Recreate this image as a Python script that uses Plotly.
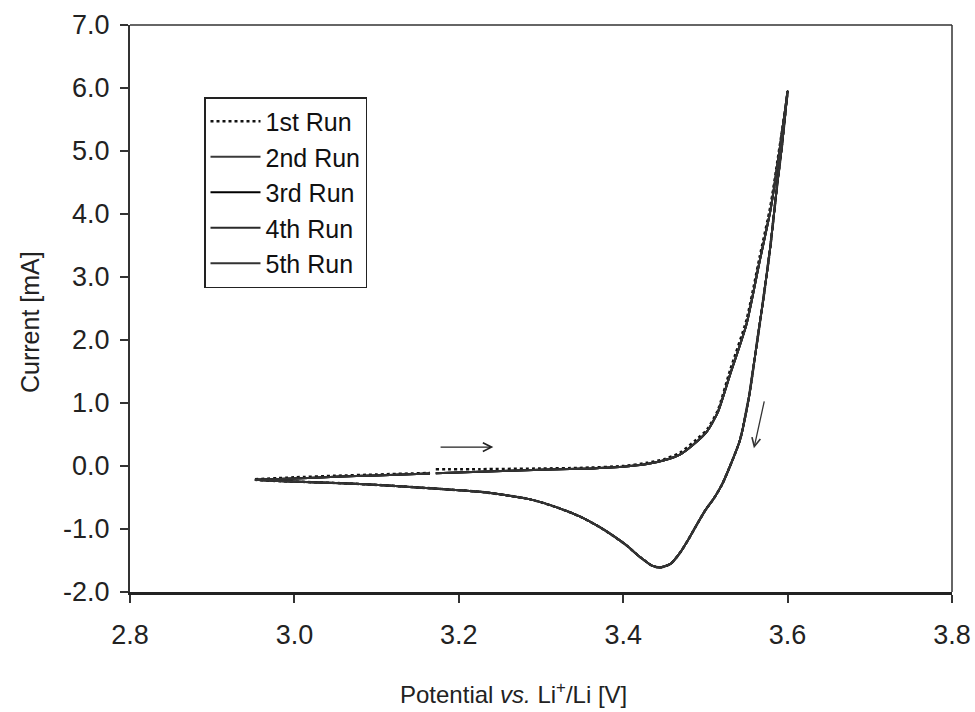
import plotly.graph_objects as go

# ---- data (potential in V vs Li+/Li, current in mA) ----
# forward (anodic) sweep; None marks the small gap seen in the recorded curve
potential_fwd = [2.952, 3.00, 3.05, 3.10, 3.165, None, 3.172, 3.226, 3.30, 3.347, 3.40,
                 3.429, 3.45, 3.469, 3.489, 3.502, 3.515, 3.530, 3.550, 3.566, 3.579,
                 3.589, 3.600]
current_fwd_run1 = [-0.21, -0.18, -0.155, -0.135, -0.11, None, -0.05, -0.05, -0.04, -0.03,
                    0.00, 0.05, 0.11, 0.21, 0.42, 0.58, 0.88, 1.52, 2.32, 3.32, 4.12,
                    4.96, 5.92]
current_fwd_runs = [-0.22, -0.20, -0.17, -0.15, -0.12, None, -0.115, -0.09, -0.06, -0.045,
                    -0.01, 0.03, 0.09, 0.18, 0.38, 0.55, 0.85, 1.45, 2.25, 3.25, 4.05,
                    4.90, 5.95]

# reverse (cathodic) sweep, shared by all runs
potential_rev = [3.600, 3.593, 3.587, 3.579, 3.571, 3.562, 3.553, 3.542, 3.530, 3.520,
                 3.510, 3.500, 3.490, 3.480, 3.469, 3.458, 3.445, 3.435, 3.420, 3.405,
                 3.388, 3.370, 3.347, 3.320, 3.287, 3.250, 3.226, 3.150, 3.086, 3.030,
                 2.980, 2.952]
current_rev = [5.95, 5.07, 4.43, 3.48, 2.70, 1.89, 1.10, 0.41, 0.00, -0.30,
               -0.52, -0.70, -0.92, -1.15, -1.38, -1.55, -1.61, -1.58, -1.44, -1.27,
               -1.11, -0.96, -0.80, -0.66, -0.53, -0.45, -0.41, -0.34, -0.29, -0.26,
               -0.24, -0.22]

run_names = ["1st Run", "2nd Run", "3rd Run", "4th Run", "5th Run"]
run_colors = ["#111111", "#3a3a3a", "#000000", "#2a2a2a", "#333333"]

x_ticks = [2.8, 3.0, 3.2, 3.4, 3.6, 3.8]
x_tick_labels = ["2.8", "3.0", "3.2", "3.4", "3.6", "3.8"]
y_ticks = [-2, -1, 0, 1, 2, 3, 4, 5, 6, 7]
y_tick_labels = ["-2.0", "-1.0", "0.0", "1.0", "2.0", "3.0", "4.0", "5.0", "6.0", "7.0"]

FONT = "Liberation Sans, Arial, sans-serif"

fig = go.Figure()
for i, name in enumerate(run_names):
    fwd = current_fwd_run1 if i == 0 else current_fwd_runs
    fig.add_trace(go.Scatter(
        x=potential_fwd + potential_rev,
        y=fwd + current_rev,
        mode="lines",
        name=name,
        connectgaps=False,
        line=dict(color=run_colors[i], width=2.5 if i == 0 else 2,
                  dash="dot" if i == 0 else "solid", shape="spline", smoothing=0.6),
    ))

# sweep direction arrows
fig.add_annotation(x=3.242, y=0.30, ax=3.176, ay=0.30, xref="x", yref="y",
                   axref="x", ayref="y", text="", showarrow=True,
                   arrowhead=5, arrowsize=1.3, arrowwidth=1.3, arrowcolor="#222")
fig.add_annotation(x=3.559, y=0.28, ax=3.572, ay=1.05, xref="x", yref="y",
                   axref="x", ayref="y", text="", showarrow=True,
                   arrowhead=5, arrowsize=1.3, arrowwidth=1.3, arrowcolor="#333")

# axis titles
fig.add_annotation(text="Potential <i>vs.</i> Li<sup>+</sup>/Li [V]", xref="paper", yref="paper",
                   x=(513 - 130) / 822, y=-(693 - 592) / 567, showarrow=False,
                   font=dict(family=FONT, size=24, color="#222"), yanchor="middle")
fig.add_annotation(text="Current [mA]", xref="paper", yref="paper",
                   x=-(130 - 30) / 822, y=1 - (322 - 25) / 567, showarrow=False, textangle=-90,
                   font=dict(family=FONT, size=25, color="#222"), xanchor="center", yanchor="middle")

# thin top and right frame lines
fig.add_shape(type="line", xref="paper", yref="paper", x0=0, x1=1, y0=1, y1=1,
              line=dict(color="#333", width=1.5))
fig.add_shape(type="line", xref="paper", yref="paper", x0=1, x1=1, y0=1, y1=0,
              line=dict(color="#333", width=1.5))

fig.update_xaxes(range=[2.8, 3.8], tickvals=x_ticks, ticktext=x_tick_labels,
                 showline=True, linecolor="#222", linewidth=2.5, ticks="outside",
                 ticklen=8, tickwidth=1.5, tickcolor="#333", showgrid=False,
                 zeroline=False, ticklabelstandoff=9, automargin=False,
                 tickfont=dict(family=FONT, size=27, color="#222"))
fig.update_yaxes(range=[-2, 7], tickvals=y_ticks, ticktext=y_tick_labels,
                 showline=True, linecolor="#333", linewidth=2, ticks="outside",
                 ticklen=8, tickwidth=1.5, tickcolor="#333", showgrid=False,
                 zeroline=False, ticklabelstandoff=5, automargin=False,
                 tickfont=dict(family=FONT, size=27, color="#222"))

fig.update_layout(
    width=975, height=712,
    margin=dict(l=130, r=23, t=25, b=120, autoexpand=False),
    paper_bgcolor="white", plot_bgcolor="white",
    showlegend=True,
    legend=dict(x=(204 - 130) / 822, y=1 - (97 - 25) / 567, xanchor="left", yanchor="top",
                bgcolor="white", bordercolor="#222", borderwidth=1.5,
                font=dict(family=FONT, size=25, color="#111"),
                tracegroupgap=0, itemwidth=50),
)

fig.write_html("out.html")
